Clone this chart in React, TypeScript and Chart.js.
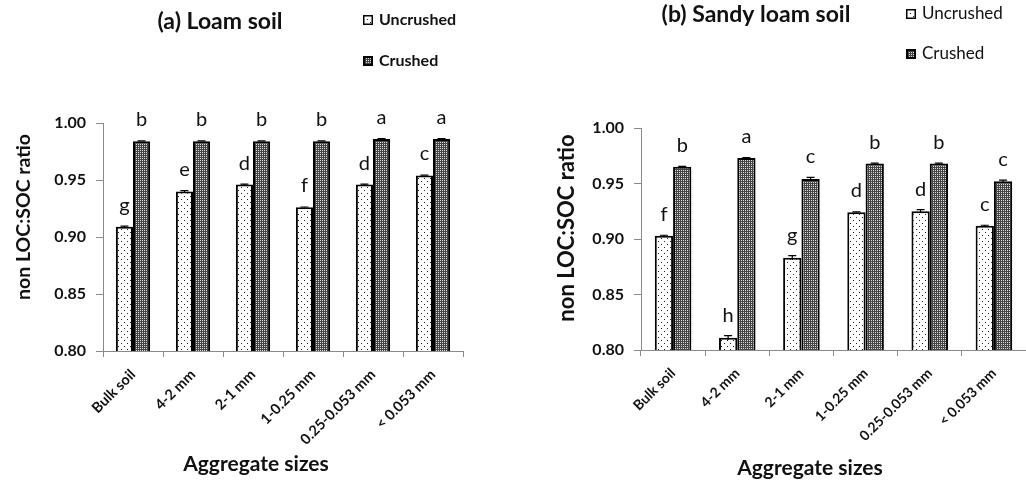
import React, { useEffect, useRef } from "react";
import { Chart, registerables } from "chart.js";

Chart.register(...registerables);

// ---------- DATA ----------
const categories = ["Bulk soil", "4-2 mm", "2-1 mm", "1-0.25 mm", "0.25-0.053 mm", "< 0.053 mm"];
const yTickValues = [0.8, 0.85, 0.9, 0.95, 1.0];
const seriesNames = ["Uncrushed", "Crushed"];

const loamUncrushed = [0.909, 0.94, 0.946, 0.926, 0.946, 0.954];
const loamCrushed = [0.984, 0.984, 0.984, 0.984, 0.986, 0.986];
const loamUncrushedErr = [0.0006, 0.0006, 0.0003, 0.0003, 0.0003, 0.0003];
const loamCrushedErr = [0.0003, 0.0003, 0.0003, 0.0003, 0.0003, 0.0003];
const loamUncrushedLetters = ["g", "e", "d", "f", "d", "c"];
const loamCrushedLetters = ["b", "b", "b", "b", "a", "a"];

const sandyUncrushed = [0.903, 0.811, 0.883, 0.924, 0.925, 0.912];
const sandyCrushed = [0.965, 0.973, 0.954, 0.968, 0.968, 0.952];
const sandyUncrushedErr = [0.0004, 0.002, 0.002, 0.0004, 0.0015, 0.0004];
const sandyCrushedErr = [0.0004, 0.0004, 0.0015, 0.0004, 0.0004, 0.001];
const sandyUncrushedLetters = ["f", "h", "g", "d", "d", "c"];
const sandyCrushedLetters = ["b", "a", "c", "b", "b", "c"];

const FONT = "Lato, 'Open Sans', sans-serif";
const AXIS_GREY = "#8a8a8a";

function makePattern(kind: "unc" | "cr"): CanvasPattern | string {
  const c = document.createElement("canvas");
  if (kind === "unc") {
    c.width = 6;
    c.height = 6;
    const g = c.getContext("2d")!;
    g.fillStyle = "#ffffff";
    g.fillRect(0, 0, 6, 6);
    g.fillStyle = "#222";
    g.fillRect(1, 1, 1, 1);
    g.fillRect(4, 4, 1, 1);
  } else {
    c.width = 4;
    c.height = 4;
    const g = c.getContext("2d")!;
    g.fillStyle = "#454545";
    g.fillRect(0, 0, 4, 4);
    g.fillStyle = "#dcdcdc";
    g.fillRect(0, 0, 1, 1);
    g.fillRect(2, 2, 1, 1);
    g.fillRect(0, 2, 1, 1);
    g.fillRect(2, 0, 1, 1);
  }
  const p = c.getContext("2d")!.createPattern(c, "repeat");
  return p || (kind === "unc" ? "#fff" : "#777");
}

type Panel = {
  title: string;
  unc: number[];
  cr: number[];
  uncErr: number[];
  crErr: number[];
  uncLet: string[];
  crLet: string[];
  layout: {
    top: number;
    right: number;
    yWidth: number;
    xHeight: number;
    titleX: number;
    titleY: number;
    titleFont: number;
    legX: number;
    legY1: number;
    legY2: number;
    legBold: boolean;
    legFont: number;
    yTitleX: number;
    yTitleY: number;
    yTitleFont: number;
    xTitleX: number;
    xTitleY: number;
    xTitleFont: number;
    tickFont: number;
    xTickFont: number;
    catPct: number;
  };
};

const panels: Panel[] = [
  {
    title: "(a) Loam soil",
    unc: loamUncrushed,
    cr: loamCrushed,
    uncErr: loamUncrushedErr,
    crErr: loamCrushedErr,
    uncLet: loamUncrushedLetters,
    crLet: loamCrushedLetters,
    layout: {
      top: 123,
      right: 50,
      yWidth: 103,
      xHeight: 129,
      titleX: 220,
      titleY: 22,
      titleFont: 23,
      legX: 363,
      legY1: 20,
      legY2: 61,
      legBold: true,
      legFont: 16,
      yTitleX: 24,
      yTitleY: 217,
      yTitleFont: 19.5,
      xTitleX: 256,
      xTitleY: 464,
      xTitleFont: 21,
      tickFont: 16,
      xTickFont: 14.5,
      catPct: 0.57,
    },
  },
  {
    title: "(b) Sandy loam soil",
    unc: sandyUncrushed,
    cr: sandyCrushed,
    uncErr: sandyUncrushedErr,
    crErr: sandyCrushedErr,
    uncLet: sandyUncrushedLetters,
    crLet: sandyCrushedLetters,
    layout: {
      top: 128,
      right: 0,
      yWidth: 128,
      xHeight: 130,
      titleX: 243,
      titleY: 15,
      titleFont: 23,
      legX: 393,
      legY1: 14,
      legY2: 54,
      legBold: false,
      legFont: 17,
      yTitleX: 54,
      yTitleY: 228,
      yTitleFont: 22,
      xTitleX: 297,
      xTitleY: 468,
      xTitleFont: 21,
      tickFont: 16,
      xTickFont: 14,
      catPct: 0.57,
    },
  },
];

function PanelChart({ panel, left }: { panel: Panel; left: number }) {
  const ref = useRef<HTMLCanvasElement>(null);
  useEffect(() => {
    const L = panel.layout;
    const uncPat = makePattern("unc");
    const crPat = makePattern("cr");
    const errs = [panel.uncErr, panel.crErr];
    const lets = [panel.uncLet, panel.crLet];

    const overlay = {
      id: "overlay",
      afterDatasetsDraw(chart: any) {
        const ctx = chart.ctx;
        const ys = chart.scales.y;
        ctx.save();
        for (let d = 0; d < 2; d++) {
          const meta = chart.getDatasetMeta(d);
          const vals = chart.data.datasets[d].data as number[];
          meta.data.forEach((bar: any, j: number) => {
            const v = vals[j];
            const e = errs[d][j];
            const yTop = ys.getPixelForValue(v + e);
            const yBot = ys.getPixelForValue(v - e);
            ctx.strokeStyle = "#000";
            ctx.lineWidth = 1.2;
            ctx.beginPath();
            ctx.moveTo(bar.x, yTop);
            ctx.lineTo(bar.x, yBot);
            ctx.moveTo(bar.x - 4, yTop);
            ctx.lineTo(bar.x + 4, yTop);
            ctx.stroke();
            ctx.fillStyle = "#111";
            ctx.font = `20px ${FONT}`;
            ctx.textAlign = "center";
            ctx.textBaseline = "alphabetic";
            ctx.fillText(lets[d][j], bar.x, Math.min(yTop, ys.getPixelForValue(v) - 1) - 14);
          });
        }
        ctx.restore();
      },
      afterDraw(chart: any) {
        const ctx = chart.ctx;
        ctx.save();
        ctx.fillStyle = "#111";
        // main title
        ctx.font = `bold ${L.titleFont}px ${FONT}`;
        ctx.textAlign = "center";
        ctx.textBaseline = "middle";
        ctx.fillText(panel.title, L.titleX, L.titleY);
        // legend
        const boxes = [uncPat, crPat];
        const ly = [L.legY1, L.legY2];
        for (let i = 0; i < 2; i++) {
          const bx = L.legX;
          const by = ly[i] - 5;
          ctx.fillStyle = i === 0 ? "#fff" : "#000";
          ctx.fillRect(bx, by, 10, 10);
          ctx.fillStyle = boxes[i] as any;
          ctx.fillRect(bx + 2, by + 2, 6, 6);
          ctx.strokeStyle = "#000";
          ctx.lineWidth = 1.5;
          ctx.strokeRect(bx + 0.75, by + 0.75, 8.5, 8.5);
          ctx.fillStyle = "#111";
          ctx.font = `${L.legBold ? "bold " : ""}${L.legFont}px ${FONT}`;
          ctx.textAlign = "left";
          ctx.textBaseline = "middle";
          ctx.fillText(seriesNames[i], bx + 16, ly[i]);
        }
        // y title
        ctx.save();
        ctx.translate(L.yTitleX, L.yTitleY);
        ctx.rotate(-Math.PI / 2);
        ctx.font = `bold ${L.yTitleFont}px ${FONT}`;
        ctx.textAlign = "center";
        ctx.textBaseline = "middle";
        ctx.fillText("non LOC:SOC ratio", 0, 0);
        ctx.restore();
        // x title
        ctx.font = `bold ${L.xTitleFont}px ${FONT}`;
        ctx.textAlign = "center";
        ctx.textBaseline = "middle";
        ctx.fillText("Aggregate sizes", L.xTitleX, L.xTitleY);
        ctx.restore();
      },
    };

    const chart = new Chart(ref.current!, {
      type: "bar",
      data: {
        labels: categories,
        datasets: [
          {
            label: seriesNames[0],
            data: panel.unc,
            backgroundColor: uncPat as any,
            borderColor: "#000",
            borderWidth: 2,
            borderSkipped: "bottom",
          },
          {
            label: seriesNames[1],
            data: panel.cr,
            backgroundColor: crPat as any,
            borderColor: "#000",
            borderWidth: 2,
            borderSkipped: "bottom",
          },
        ],
      },
      options: {
        responsive: false,
        animation: false,
        datasets: {
          bar: { categoryPercentage: L.catPct, barPercentage: 1 },
        },
        layout: { padding: { top: L.top, right: L.right, left: 0, bottom: 0 } },
        plugins: {
          legend: { display: false },
          title: { display: false },
          tooltip: { enabled: false },
        },
        scales: {
          x: {
            offset: true,
            grid: {
              offset: true,
              drawOnChartArea: false,
              color: AXIS_GREY,
              tickLength: 6,
            },
            border: { color: AXIS_GREY, width: 1 },
            ticks: {
              autoSkip: false,
              maxRotation: 45,
              minRotation: 45,
              color: "#111",
              padding: 9,
              font: { family: FONT, size: L.xTickFont, weight: "bold" },
            },
            afterFit: (s: any) => {
              s.height = L.xHeight;
            },
          } as any,
          y: {
            min: yTickValues[0],
            max: yTickValues[yTickValues.length - 1],
            afterBuildTicks: (s: any) => {
              s.ticks = yTickValues.map((v) => ({ value: v }));
            },
            grid: {
              drawOnChartArea: false,
              color: AXIS_GREY,
              tickLength: 7,
            },
            border: { color: AXIS_GREY, width: 1 },
            ticks: {
              color: "#111",
              padding: 10,
              font: { family: FONT, size: L.tickFont, weight: "bold" },
              callback: (v: any) => Number(v).toFixed(2),
            },
            afterFit: (s: any) => {
              s.width = L.yWidth;
            },
          } as any,
        },
      },
      plugins: [overlay],
    });
    return () => chart.destroy();
  }, [panel]);

  return (
    <canvas
      ref={ref}
      width={513}
      height={480}
      style={{ position: "absolute", left, top: 0, width: 513, height: 480 }}
    />
  );
}

export default function App() {
  return (
    <div
      style={{
        position: "absolute",
        left: 0,
        top: 0,
        width: 1026,
        height: 480,
        background: "#fff",
        overflow: "hidden",
      }}
    >
      <PanelChart panel={panels[0]} left={0} />
      <PanelChart panel={panels[1]} left={513} />
    </div>
  );
}
